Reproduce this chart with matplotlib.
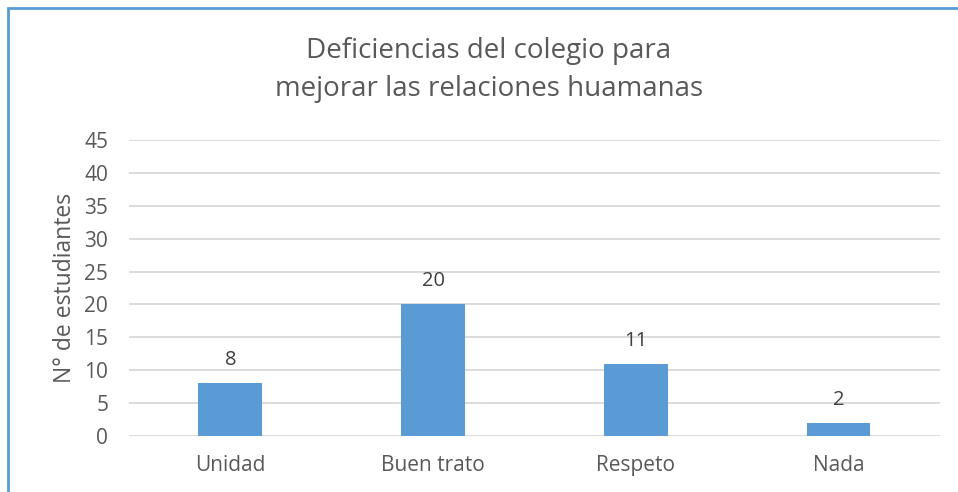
import matplotlib.pyplot as plt
from matplotlib.patches import Rectangle

plt.rcParams['font.family'] = ['Open Sans', 'DejaVu Sans']

# Datos
categorias = ['Unidad', 'Buen trato', 'Respeto', 'Nada']
estudiantes = [8, 20, 11, 2]
ticks_y = [0, 5, 10, 15, 20, 25, 30, 35, 40, 45]

fig = plt.figure(figsize=(9.58, 4.92), dpi=100)
ax = fig.add_axes([0.1347, 0.1138, 0.8463, 0.6016])

x = range(len(categorias))
ax.bar(x, estudiantes, width=0.315, color='#5b9bd5', zorder=3)

for xi, v in zip(x, estudiantes):
    ax.text(xi, v + 2.0, str(v), ha='center', va='bottom',
            fontsize=14.5, color='#404040')

ax.set_xlim(-0.5, len(categorias) - 0.5)
ax.set_ylim(0, 45)
ax.set_yticks(ticks_y)
ax.set_xticks(list(x))
ax.set_xticklabels(categorias)
ax.yaxis.grid(True, color='#d9d9d9', linewidth=1.3, zorder=0)
ax.tick_params(axis='both', length=0, labelsize=15, labelcolor='#595959')
ax.tick_params(axis='x', pad=14)
ax.tick_params(axis='y', pad=15)
for s in ax.spines.values():
    s.set_visible(False)

ax.set_ylabel('N° de estudiantes', fontsize=16.5, color='#595959', labelpad=5)

fig.text(0.51, 0.858, 'Deficiencias del colegio para\nmejorar las relaciones huamanas',
         ha='center', va='center', fontsize=20, color='#595959', linespacing=1.5)

# borde azul del gráfico
fig.add_artist(Rectangle((8 / 958, -0.1), 1.2, 1.1 - 8 / 492,
                         transform=fig.transFigure, fill=False,
                         edgecolor='#5b9bd5', linewidth=2))

fig.savefig('out.png', dpi=100)
